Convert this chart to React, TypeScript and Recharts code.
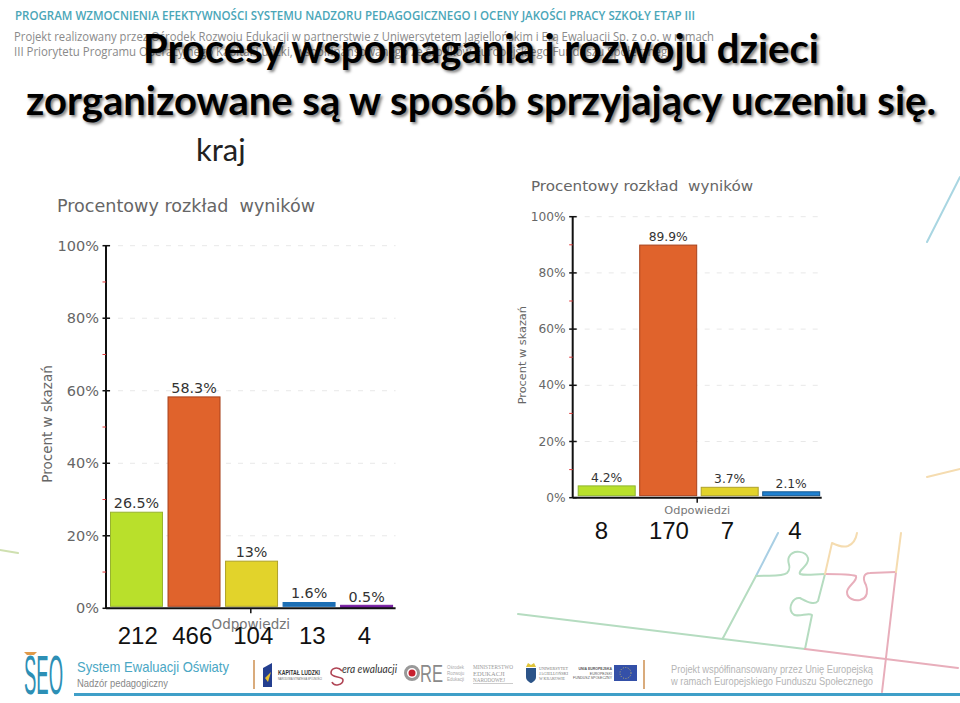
import { Bar, BarChart, CartesianGrid, Cell, LabelList, XAxis, YAxis } from "recharts";

const kategorieKraj = ["A", "B", "C", "D", "E"];
const procentyKraj = [26.5, 58.3, 13, 1.6, 0.5];
const liczbyKraj = [212, 466, 104, 13, 4];
const przesuniecieKraj = [1, -2, 1.5, 3, -2.5];
const koloryKraj = ["#b9e02b", "#e0632c", "#e2d32b", "#1c6fb5", "#761ea0"];
const obrysyKraj = ["#98b32f", "#a8421c", "#aea22a", "#1c6fb5", "#761ea0"];

const kategorieWoj = ["A", "B", "C", "D"];
const procentyWoj = [4.2, 89.9, 3.7, 2.1];
const liczbyWoj = [8, 170, 7, 4];
const przesuniecieWoj = [-5, 1, -2, 4];
const koloryWoj = ["#b9e02b", "#e0632c", "#e2d32b", "#1f80d0"];
const obrysyWoj = ["#8fb52f", "#a8421c", "#aea22a", "#16588f"];

const yTicks = [0, 10, 20, 30, 40, 50, 60, 70, 80, 90, 100];
const gridValues = [20, 40, 60, 80, 100];

const FONT = "'DejaVu Sans', sans-serif";

const TrimmedBar = ({ x, y, width, height, fill, stroke }: any) => {
  const bottom = y + height;
  const cut = height > 4 ? 2 : 0;
  const top = height > 4 ? y : bottom - 3;
  return (
    <rect
      x={x + 0.5}
      y={top}
      width={width - 1}
      height={bottom - cut - top}
      fill={fill}
      stroke={stroke}
      strokeWidth={1}
    />
  );
};

const PctChart = ({
  left,
  top,
  width,
  height,
  yWidth,
  plotTop,
  xHeight,
  right,
  pad,
  barSize,
  rows,
  fills,
  strokes,
  offsets,
  tickFont,
  labelFont,
  axisFont,
  countDy,
  yLabelX,
  yLabelDy,
  xLabelDy,
}: any) => {
  const YTick = ({ x, y, payload }: any) => {
    const major = payload.value % 20 === 0;
    return (
      <g>
        <line
          x1={x - 3.5}
          x2={major ? x + 4 : x}
          y1={y}
          y2={y}
          stroke={major ? "#111" : "#e03a3a"}
          strokeWidth={major ? 1.5 : 1}
        />
        {major && (
          <text x={x - 7} y={y} textAnchor="end" dominantBaseline="central" fontFamily={FONT} fontSize={tickFont} fill="#666">
            {payload.value}%
          </text>
        )}
      </g>
    );
  };

  const CountTick = ({ x, y, payload, index }: any) => (
    <text
      x={x + offsets[index]}
      y={y + countDy}
      textAnchor="middle"
      dominantBaseline="central"
      fontFamily="'Liberation Sans', Arial, sans-serif"
      fontSize={24}
      fill="#111"
    >
      {payload.value}
    </text>
  );

  const XTitle = ({ viewBox }: any) => {
    const cx = viewBox.x + viewBox.width / 2;
    const axisY = viewBox.y;
    return (
      <g>
        <line x1={cx} x2={cx} y1={axisY} y2={axisY + 5} stroke="#111" strokeWidth={1.5} />
        <text x={cx} y={axisY + xLabelDy} textAnchor="middle" dominantBaseline="central" fontFamily={FONT} fontSize={axisFont} fill="#777">
          Odpowiedzi
        </text>
      </g>
    );
  };

  const YTitle = ({ viewBox }: any) => {
    const cy = viewBox.y + viewBox.height / 2 + yLabelDy;
    return (
      <text
        x={yLabelX}
        y={cy}
        textAnchor="middle"
        dominantBaseline="central"
        transform={`rotate(-90 ${yLabelX} ${cy})`}
        fontFamily={FONT}
        fontSize={axisFont}
        fill="#666"
      >
        Procent w skazań
      </text>
    );
  };

  return (
    <div style={{ position: "absolute", left, top, width, height }}>
      <BarChart width={width} height={height} data={rows} margin={{ top: plotTop, right, bottom: 0, left: 0 }} barSize={barSize}>
        <CartesianGrid vertical={false} horizontalValues={gridValues} stroke="#e8e8e8" strokeDasharray="5 7" />
        <XAxis
          dataKey="count"
          height={xHeight}
          interval={0}
          padding={{ left: pad, right: 0 }}
          axisLine={{ stroke: "#111", strokeWidth: 2 }}
          tickLine={false}
          tickSize={0}
          tick={<CountTick />}
          label={<XTitle />}
        />
        <YAxis
          width={yWidth}
          type="number"
          domain={[0, 100]}
          ticks={yTicks}
          interval={0}
          tickSize={0}
          tickMargin={0}
          axisLine={{ stroke: "#111", strokeWidth: 2 }}
          tickLine={false}
          tick={<YTick />}
          label={<YTitle />}
        />
        <Bar dataKey="pct" isAnimationActive={false} shape={<TrimmedBar />}>
          {rows.map((r: any, i: number) => (
            <Cell key={r.name} fill={fills[i]} stroke={strokes[i]} />
          ))}
          <LabelList
            dataKey="pct"
            position="top"
            offset={4}
            formatter={(v: any) => `${v}%`}
            style={{ fontFamily: FONT, fontSize: labelFont, fill: "#333" }}
          />
        </Bar>
      </BarChart>
    </div>
  );
};

const Backdrop = () => (
  <svg width={960} height={703} style={{ position: "absolute", left: 0, top: 0 }}>
    <g fontFamily="'Open Sans', sans-serif">
      <text x={15} y={20} fontSize={12.5} fontWeight={600} fill="#4aa6b8" textLength={680} lengthAdjust="spacingAndGlyphs">
        PROGRAM WZMOCNIENIA EFEKTYWNOŚCI SYSTEMU NADZORU PEDAGOGICZNEGO I OCENY JAKOŚCI PRACY SZKOŁY ETAP III
      </text>
      <text x={14} y={41} fontSize={12} fill="#8a8a8a" textLength={700} lengthAdjust="spacingAndGlyphs">
        Projekt realizowany przez Ośrodek Rozwoju Edukacji w partnerstwie z Uniwersytetem Jagiellońskim i Erą Ewaluacji Sp. z o.o. w ramach
      </text>
      <text x={14} y={56} fontSize={12} fill="#8a8a8a" textLength={660} lengthAdjust="spacingAndGlyphs">
        III Priorytetu Programu Operacyjnego Kapitał Ludzki, współfinansowanego ze środków Europejskiego Funduszu Społecznego
      </text>
    </g>

    {/* puzzle lines */}
    <g fill="none" strokeWidth={2} strokeLinecap="round" strokeLinejoin="round">
      <path d="M927 242 L960 177" stroke="#a9d6e2" />
      <path d="M927 477 L960 469" stroke="#f5dcb0" />
      <path d="M0 550 L18 553" stroke="#cfe0b0" />
      <path d="M778 533 L756 576" stroke="#a9cfe4" />
      <path d="M518 614 L805 649 M756 576 L723 638" stroke="#b5dcc0" />
      <path d="M756 576 C770 575 782 577 787 573 C793 567 786 563 789 557 C793 549 806 551 808 558 C810 566 797 570 800 574 C806 576 815 574 825 574" stroke="#b5dcc0" />
      <path d="M825 574 L818 601 C814 606 806 601 800 598 C793 597 788 607 792 613 C796 619 808 612 812 615 L805 649" stroke="#b5dcc0" />
      <path d="M825 574 C835 574 850 574 856 576 C858 581 847 586 847 592 C847 599 855 601 860 600 C868 598 868 590 866 585 C862 578 864 573 870 573 L896 572" stroke="#e8aebb" />
      <path d="M896 572 L882 692 M805 649 L958 668" stroke="#e8aebb" />
      <path d="M896 572 L901 533 M825 574 L832 543 C836 545 842 548 848 546 C853 544 856 539 857 533" stroke="#f5dcb0" />
    </g>

    {/* footer */}
    <text x={24} y={694} fontFamily="'Liberation Sans Narrow', 'Liberation Sans', sans-serif" fontSize={56} fill="#2d8fb5" textLength={39} lengthAdjust="spacingAndGlyphs">
      SEO
    </text>
    <path d="M24 652 L37 652 L34 655 L27 655 Z" fill="#e09a4a" />
    <text x={77} y={672} fontFamily="'Liberation Sans', sans-serif" fontSize={15} fill="#4aa7c4" textLength={152} lengthAdjust="spacingAndGlyphs">
      System Ewaluacji Oświaty
    </text>
    <text x={77} y={687} fontFamily="'Liberation Sans', sans-serif" fontSize={11.5} fill="#888" textLength={91} lengthAdjust="spacingAndGlyphs">
      Nadzór pedagogiczny
    </text>
    <rect x={74} y={693} width={886} height={3} fill="#3f9fc8" />
    <rect x={253} y={660} width={2} height={29} fill="#d9ab7c" />
    <rect x={643} y={660} width={2} height={29} fill="#d9ab7c" />

    <path d="M263 668 L272 663 L272 687 L263 687 Z" fill="#243f8f" />
    <path d="M265 678 L271 672 L268 682 Z" fill="#e8c12f" />
    <text x={278} y={675} fontFamily="'Liberation Sans', sans-serif" fontWeight={700} fontSize={7} fill="#333" textLength={42} lengthAdjust="spacingAndGlyphs">
      KAPITAŁ LUDZKI
    </text>
    <text x={278} y={680} fontFamily="'Liberation Sans', sans-serif" fontSize={3.5} fill="#666" textLength={44} lengthAdjust="spacingAndGlyphs">
      NARODOWA STRATEGIA SPÓJNOŚCI
    </text>

    <path d="M342 671 C338 666 331 668 331 673 C331 678 343 676 343 680 C343 685 334 687 332 682" fill="none" stroke="#b04555" strokeWidth={1.6} />
    <text x={342} y={673} fontFamily="'Lato', sans-serif" fontStyle="italic" fontSize={12} fill="#333" textLength={55} lengthAdjust="spacingAndGlyphs">
      era ewaluacji
    </text>

    <circle cx={412} cy={673} r={6.5} fill="none" stroke="#999" strokeWidth={3} />
    <circle cx={412} cy={673} r={3.5} fill="#c8202f" />
    <text x={420} y={682} fontFamily="'Liberation Sans', sans-serif" fontSize={24} fill="#8a8a8a" textLength={23} lengthAdjust="spacingAndGlyphs">
      RE
    </text>
    <g fontFamily="'Liberation Sans', sans-serif" fontSize={4.5} fill="#aaa">
      <text x={447} y={669}>Ośrodek</text>
      <text x={447} y={675}>Rozwoju</text>
      <text x={447} y={681}>Edukacji</text>
    </g>

    <g fontFamily="'Liberation Serif', serif" fontSize={6.5} fill="#999">
      <text x={473} y={669} textLength={40} lengthAdjust="spacingAndGlyphs">MINISTERSTWO</text>
      <text x={473} y={675.5}>EDUKACJI</text>
      <text x={473} y={682} textLength={32} lengthAdjust="spacingAndGlyphs">NARODOWEJ</text>
    </g>
    <rect x={473} y={683} width={40} height={1} fill="#ccc" />

    <path d="M526 668 L536 668 L536 677 C536 681 531 683 531 683 C531 683 526 681 526 677 Z" fill="#2c5488" />
    <path d="M526 667 L528 663 L531 665 L534 663 L536 667 Z" fill="#e0c43a" />
    <g fontFamily="'Liberation Serif', serif" fontSize={4} fill="#777">
      <text x={539} y={670} textLength={29} lengthAdjust="spacingAndGlyphs">UNIWERSYTET</text>
      <text x={539} y={675} textLength={29} lengthAdjust="spacingAndGlyphs">JAGIELLOŃSKI</text>
      <text x={539} y={680} textLength={26} lengthAdjust="spacingAndGlyphs">W KRAKOWIE</text>
    </g>

    <g fontFamily="'Liberation Sans', sans-serif" fontSize={3.5} fill="#555" textAnchor="end">
      <text x={612} y={670} fontWeight={700}>UNIA EUROPEJSKA</text>
      <text x={612} y={674.5}>EUROPEJSKI</text>
      <text x={612} y={679}>FUNDUSZ SPOŁECZNY</text>
    </g>
    <rect x={614} y={665} width={23} height={16} fill="#3450a8" />
    <circle cx={625.5} cy={673} r={5.5} fill="none" stroke="#b8b070" strokeWidth={1} strokeDasharray="1 1.5" />

    <g fontFamily="'Liberation Sans', sans-serif" fontSize={10} fill="#b5b5b5">
      <text x={671} y={673} textLength={202} lengthAdjust="spacingAndGlyphs">Projekt współfinansowany przez Unię Europejską</text>
      <text x={671} y={685} textLength={202} lengthAdjust="spacingAndGlyphs">w ramach Europejskiego Funduszu Społecznego</text>
    </g>

    {/* chart headers */}
    <text x={57} y={212} fontFamily={FONT} fontSize={17} fill="#666" textLength={258} lengthAdjust="spacingAndGlyphs" style={{ whiteSpace: "pre" }}>
      Procentowy rozkład  wyników
    </text>
    <text x={531} y={191} fontFamily={FONT} fontSize={14.5} fill="#666" textLength={222} lengthAdjust="spacingAndGlyphs" style={{ whiteSpace: "pre" }}>
      Procentowy rozkład  wyników
    </text>
  </svg>
);

const headingStyle: any = {
  position: "absolute",
  left: 1,
  width: 960,
  textAlign: "center",
  fontFamily: "Lato, sans-serif",
  fontWeight: 700,
  fontSize: 40,
  lineHeight: "46px",
  color: "#000",
  whiteSpace: "nowrap",
  textShadow: "2px 2px 3px rgba(0,0,0,0.5)",
};

export default function App() {
  const rowsKraj = kategorieKraj.map((name, i) => ({ name, pct: procentyKraj[i], count: liczbyKraj[i] }));
  const rowsWoj = kategorieWoj.map((name, i) => ({ name, pct: procentyWoj[i], count: liczbyWoj[i] }));

  return (
    <div style={{ position: "relative", width: 960, height: 703, overflow: "hidden", background: "#fff" }}>
      <style>{"body{margin:0}"}</style>
      <Backdrop />
      <div style={{ ...headingStyle, top: 25 }}>Procesy wspomagania i rozwoju dzieci</div>
      <div style={{ ...headingStyle, top: 77 }}>zorganizowane są w sposób sprzyjający uczeniu się.</div>
      <div
        style={{
          position: "absolute",
          left: 196,
          top: 129,
          fontFamily: "Lato, sans-serif",
          fontSize: 31,
          lineHeight: "40px",
          color: "#222",
        }}
      >
        kraj
      </div>

      <PctChart
        left={30}
        top={190}
        width={370}
        height={460}
        yWidth={76}
        plotTop={55.7}
        xHeight={41.7}
        right={4.4}
        pad={2}
        barSize={53}
        rows={rowsKraj}
        fills={koloryKraj}
        strokes={obrysyKraj}
        offsets={przesuniecieKraj}
        tickFont={14.5}
        labelFont={14.3}
        axisFont={13.5}
        countDy={25.5}
        yLabelX={17}
        yLabelDy={-3}
        xLabelDy={16}
      />
      <PctChart
        left={510}
        top={170}
        width={320}
        height={375}
        yWidth={62.7}
        plotTop={46.7}
        xHeight={47.3}
        right={8.3}
        pad={3}
        barSize={58}
        rows={rowsWoj}
        fills={koloryWoj}
        strokes={obrysyWoj}
        offsets={przesuniecieWoj}
        tickFont={12.2}
        labelFont={12.3}
        axisFont={11.3}
        countDy={30.5}
        yLabelX={12.7}
        yLabelDy={-2}
        xLabelDy={13}
      />
    </div>
  );
}
